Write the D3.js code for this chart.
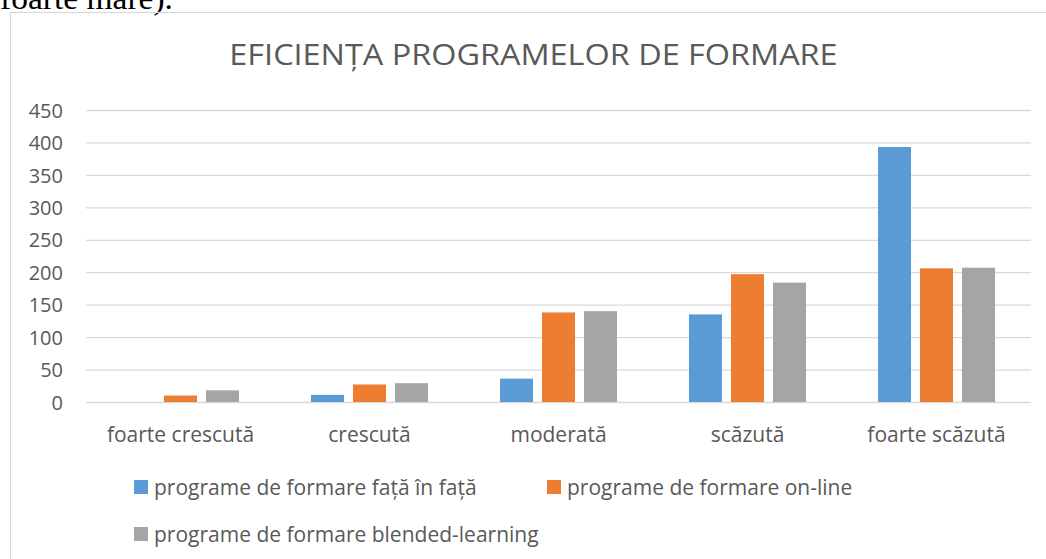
<!DOCTYPE html>
<html>
<head>
<meta charset="utf-8">
<script src="https://cdn.jsdelivr.net/npm/d3@7"></script>
<style>
  body { margin: 0; background: #fff; }
  svg { display: block; }
</style>
</head>
<body>
<script>
// data
const categories = ["foarte crescută", "crescută", "moderată", "scăzută", "foarte scăzută"];
const seriesNames = [
  "programe de formare față în față",
  "programe de formare on-line",
  "programe de formare blended-learning"
];
const faceToFace = [0, 11, 36, 135, 393];
const online = [10, 27, 138, 197, 206];
const blended = [18, 29, 140, 184, 207];
const yTicks = [0, 50, 100, 150, 200, 250, 300, 350, 400, 450];
const colors = ["#5b9bd5", "#ed7d31", "#a5a5a5"];

const W = 1046, H = 559;
const font = "'Open Sans', 'Noto Sans', sans-serif";
const textColor = "#595959";

const svg = d3.select("body").append("svg")
  .attr("width", W)
  .attr("height", H);

// rescale a text's width by factor k
function narrow(sel, k) {
  sel.each(function () {
    const len = this.getComputedTextLength();
    d3.select(this)
      .attr("textLength", len * k)
      .attr("lengthAdjust", "spacingAndGlyphs");
  });
}

// bit of document text cut off above the chart
svg.append("text")
  .attr("x", 0)
  .attr("y", 9)
  .style("font-family", "'Liberation Serif', 'Times New Roman', serif")
  .style("font-size", "32px")
  .attr("fill", "#000")
  .attr("textLength", 173)
  .attr("lengthAdjust", "spacingAndGlyphs")
  .text("foarte mare).");

// chart border
svg.append("rect")
  .attr("x", 10.5)
  .attr("y", 12.5)
  .attr("width", 1100)
  .attr("height", 600)
  .attr("fill", "none")
  .attr("stroke", "#d9d9d9")
  .attr("stroke-width", 1.2);

// title
svg.append("text")
  .attr("x", 533.5)
  .attr("y", 65)
  .attr("text-anchor", "middle")
  .style("font-family", font)
  .style("font-size", "30px")
  .attr("fill", textColor)
  .text("EFICIENȚA PROGRAMELOR DE FORMARE")
  .call(narrow, 1.08);

// scales
const x = d3.scaleBand()
  .domain(categories)
  .range([86, 1031]);

const xInner = d3.scaleBand()
  .domain(d3.range(seriesNames.length))
  .range([0, x.bandwidth()])
  .paddingInner(0.214)
  .paddingOuter(0.857);

const y = d3.scaleLinear()
  .domain([0, 450])
  .range([402, 110]);

// grid lines + y labels
const yAxis = d3.axisLeft(y)
  .tickValues(yTicks)
  .tickSize(-(1031 - 86))
  .tickPadding(23);

const gy = svg.append("g")
  .attr("transform", "translate(86,0)")
  .call(yAxis);

gy.select(".domain").remove();
gy.selectAll(".tick line")
  .attr("stroke", "#d9d9d9")
  .attr("stroke-width", 1.3);
gy.selectAll(".tick text")
  .style("font-family", font)
  .style("font-size", "20px")
  .attr("fill", textColor)
  .attr("dy", "0.36em");

// bars
const table = categories.map((c, i) => ({
  category: c,
  values: [faceToFace[i], online[i], blended[i]]
}));

const groups = svg.append("g")
  .selectAll("g")
  .data(table)
  .join("g")
  .attr("transform", d => `translate(${x(d.category)},0)`);

groups.selectAll("rect")
  .data(d => d.values.map((v, s) => ({ v, s })))
  .join("rect")
  .attr("x", d => xInner(d.s))
  .attr("width", xInner.bandwidth())
  .attr("y", d => y(d.v))
  .attr("height", d => y(0) - y(d.v))
  .attr("fill", d => colors[d.s]);

// category labels
const gx = svg.append("g")
  .attr("transform", "translate(0,402)")
  .call(d3.axisBottom(x).tickSize(0).tickPadding(25));

gx.select(".domain").remove();
gx.selectAll(".tick text")
  .style("font-family", font)
  .style("font-size", "21px")
  .attr("fill", textColor);

// legend
const legendPos = [
  { x: 134, y: 495 },
  { x: 547, y: 495 },
  { x: 134, y: 542 }
];

const legend = svg.append("g")
  .selectAll("g")
  .data(seriesNames)
  .join("g")
  .attr("transform", (d, i) => `translate(${legendPos[i].x},${legendPos[i].y})`);

legend.append("rect")
  .attr("x", 0)
  .attr("y", -15)
  .attr("width", 14)
  .attr("height", 14)
  .attr("fill", (d, i) => colors[i]);

legend.append("text")
  .attr("x", 20)
  .attr("y", 0)
  .style("font-family", font)
  .style("font-size", "21px")
  .attr("fill", textColor)
  .text(d => d);
</script>
</body>
</html>
